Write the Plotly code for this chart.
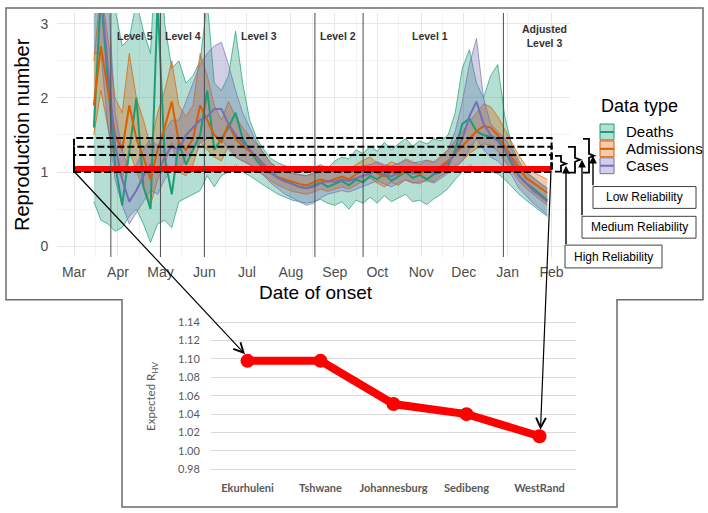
import plotly.graph_objects as go
import pandas as pd

W, H = 708, 513
def px(x): return x / W
def py(y): return 1 - y / H

# ---------------- data (top panel) ----------------
dates = pd.date_range("2020-03-15", periods=65, freq="5D")

cases_med = [3.6,3.4,2.4,1.35,0.9,0.6,0.75,0.95,1.1,1.0,1.2,1.35,1.3,1.5,1.6,1.7,1.75,1.85,1.85,1.65,1.5,1.4,1.3,1.2,1.1,1.0,0.92,0.87,0.84,0.8,0.78,0.8,0.85,0.88,0.87,0.9,0.88,0.92,0.95,0.98,1.02,0.97,0.94,0.99,1.03,0.98,1.0,1.02,0.98,1.05,1.12,1.25,1.45,1.75,1.95,1.65,1.5,1.42,1.3,1.15,0.95,0.85,0.75,0.68,0.6]
cases_lo = [2.6,2.6,1.6,0.9,0.55,0.3,0.45,0.6,0.75,0.7,0.9,1.05,1.0,1.2,1.3,1.4,1.45,1.5,1.45,1.3,1.2,1.15,1.1,1.02,0.95,0.85,0.78,0.7,0.65,0.6,0.55,0.58,0.65,0.7,0.72,0.75,0.73,0.77,0.8,0.84,0.88,0.84,0.8,0.85,0.89,0.85,0.86,0.88,0.85,0.92,0.98,1.05,1.15,1.3,1.45,1.3,1.2,1.15,1.05,0.95,0.78,0.68,0.58,0.5,0.42]
cases_hi = [4.5,4.5,3.4,1.8,1.3,1.0,1.1,1.3,1.45,1.35,1.55,1.7,1.7,1.95,2.2,2.45,2.6,2.7,2.75,2.45,2.1,1.8,1.6,1.4,1.25,1.12,1.05,1.0,0.98,0.96,0.95,0.97,1.0,1.02,1.0,1.03,1.02,1.06,1.08,1.1,1.14,1.1,1.08,1.12,1.16,1.12,1.14,1.16,1.12,1.2,1.3,1.55,1.95,2.45,2.8,2.0,1.65,1.55,1.45,1.3,1.1,1.0,0.92,0.85,0.78]

adm_med = [1.9,2.7,2.1,1.5,1.3,1.9,1.45,1.2,0.9,1.3,1.6,1.95,1.4,1.3,1.45,1.9,1.7,1.5,1.4,1.65,1.45,1.35,1.28,1.2,1.1,1.0,0.93,0.9,0.86,0.84,0.82,0.86,0.9,0.87,0.9,0.94,0.9,0.97,1.02,1.06,0.98,0.94,1.0,0.96,1.04,1.0,0.97,1.03,1.0,1.08,1.15,1.25,1.35,1.45,1.55,1.62,1.6,1.5,1.35,1.2,1.05,0.92,0.85,0.78,0.72]
adm_lo = [1.5,2.1,1.6,1.1,0.9,1.3,1.0,0.8,0.55,0.9,1.1,1.4,1.0,0.95,1.1,1.4,1.3,1.2,1.15,1.35,1.2,1.15,1.1,1.05,0.96,0.88,0.82,0.78,0.74,0.72,0.7,0.73,0.77,0.74,0.77,0.8,0.77,0.83,0.88,0.92,0.85,0.8,0.86,0.82,0.9,0.86,0.84,0.9,0.87,0.95,1.0,1.08,1.15,1.25,1.32,1.38,1.36,1.28,1.15,1.02,0.88,0.78,0.7,0.62,0.55]
adm_hi = [2.5,3.5,2.8,2.0,1.8,2.6,2.0,1.7,1.35,1.8,2.1,2.5,1.9,1.75,1.9,2.6,2.3,1.9,1.7,1.95,1.75,1.6,1.48,1.38,1.25,1.12,1.05,1.02,0.98,0.96,0.95,0.99,1.03,1.0,1.03,1.07,1.04,1.1,1.16,1.2,1.12,1.08,1.14,1.1,1.18,1.14,1.1,1.16,1.14,1.22,1.3,1.42,1.55,1.68,1.8,1.92,1.88,1.75,1.58,1.4,1.22,1.08,1.0,0.95,0.9]

death_med = [1.6,3.4,2.2,1.1,0.55,1.3,2.0,0.8,0.5,3.3,1.2,0.7,1.4,1.1,1.3,1.5,2.1,1.3,1.45,1.6,1.8,1.45,1.3,1.15,1.05,0.98,0.92,0.88,0.84,0.8,0.78,0.82,0.86,0.8,0.84,0.88,0.82,0.9,0.86,0.95,0.9,0.98,0.88,0.94,1.0,0.92,0.96,0.9,0.97,1.0,1.08,1.3,1.65,1.72,1.55,1.5,1.48,1.45,1.3,1.1,0.95,0.85,0.78,0.7,0.62]
death_lo = [0.6,0.35,0.3,0.2,0.25,0.4,0.5,0.3,0.05,0.3,0.35,0.25,0.6,0.65,0.7,0.75,0.95,0.8,0.95,1.0,1.1,1.0,0.95,0.88,0.82,0.76,0.7,0.66,0.62,0.6,0.58,0.6,0.63,0.58,0.55,0.6,0.5,0.62,0.58,0.66,0.58,0.68,0.6,0.65,0.7,0.6,0.62,0.56,0.64,0.7,0.78,0.9,1.0,1.1,1.05,1.0,1.0,0.98,0.9,0.8,0.7,0.62,0.55,0.48,0.4]
death_hi = [4.0,4.5,4.5,3.2,2.7,2.8,3.3,2.9,2.6,4.5,3.0,2.4,2.5,2.2,2.3,2.5,3.3,2.2,2.1,2.3,2.9,2.2,1.7,1.45,1.3,1.18,1.12,1.08,1.05,1.02,1.0,1.06,1.1,1.05,1.15,1.2,1.18,1.3,1.25,1.35,1.28,1.4,1.3,1.38,1.45,1.35,1.42,1.38,1.45,1.42,1.5,1.8,2.4,2.65,2.2,2.0,2.3,2.45,1.75,1.35,1.15,1.0,0.92,0.85,0.78]

ref_dates = ["2020-03-01", "2021-02-01"]
ref_value = [1.04, 1.04]
reliability_levels = [1.23, 1.34, 1.46]
reliability_base = 1.0
level_dates = ["2020-03-27", "2020-05-01", "2020-06-01", "2020-08-18", "2020-09-21", "2020-12-29"]
level_labels = ["Level 5", "Level 4", "Level 3", "Level 2", "Level 1", "Adjusted<br>Level 3"]
level_label_x = [135, 183, 259, 338, 430, 544]

# ---------------- data (bottom panel) ----------------
districts = ["Ekurhuleni", "Tshwane", "Johannesburg", "Sedibeng", "WestRand"]
expected_r = [1.098, 1.098, 1.051, 1.040, 1.016]

GREEN, ORANGE, PURPLE = "#1b9e77", "#d95f02", "#7570b3"
def rgba(h, a):
    h = h.lstrip("#")
    return "rgba(%d,%d,%d,%.2f)" % (int(h[0:2], 16), int(h[2:4], 16), int(h[4:6], 16), a)

fig = go.Figure()
series = [("Deaths", GREEN, death_med, death_lo, death_hi),
          ("Admissions", ORANGE, adm_med, adm_lo, adm_hi),
          ("Cases", PURPLE, cases_med, cases_lo, cases_hi)]
for name, c, m, lo, hi in series:
    fig.add_trace(go.Scatter(x=dates, y=lo, mode="lines", line=dict(color=c, width=0.7),
                             showlegend=False, hoverinfo="skip"))
    fig.add_trace(go.Scatter(x=dates, y=hi, mode="lines", line=dict(color=c, width=0.7),
                             fill="tonexty", fillcolor=rgba(c, 0.33), showlegend=False, hoverinfo="skip"))
for name, c, m, lo, hi in series:
    fig.add_trace(go.Scatter(x=dates, y=m, mode="lines", line=dict(color=c, width=2),
                             name=name, showlegend=False))

fig.add_trace(go.Scatter(x=ref_dates, y=ref_value, mode="lines",
                         line=dict(color="#ff0000", width=6), showlegend=False))

fig.add_trace(go.Scatter(x=districts, y=expected_r, mode="lines+markers", xaxis="x2", yaxis="y2",
                         line=dict(color="#ff0000", width=8), marker=dict(color="#ff0000", size=14),
                         showlegend=False))

shapes = []
for d in level_dates:
    shapes.append(dict(type="line", xref="x", yref="y domain", x0=d, x1=d, y0=0, y1=1,
                       line=dict(color="#4d4d4d", width=1), layer="above"))
for lv in reliability_levels:
    shapes.append(dict(type="rect", xref="x", yref="y", x0=ref_dates[0], x1=ref_dates[1],
                       y0=reliability_base, y1=lv, line=dict(color="black", width=2, dash="7px,3px"),
                       layer="above"))

def P(pts):
    return "M " + " L ".join("%.5f,%.5f" % (px(x), py(y)) for x, y in pts)

frame = [(6, 5), (703, 5), (703, 299), (617, 299), (617, 508), (122, 508), (122, 299), (6, 299), (6, 5)]
shapes.append(dict(type="path", xref="paper", yref="paper", path=P(frame) + " Z",
                   line=dict(color="#6b6b6b", width=1.5)))

def brace(xl, xm, xt, yt, yb, ytip):
    return [(xl, yt), (xm, yt), (xm, ytip - 2), (xt, ytip), (xm, ytip + 2), (xm, yb), (xl, yb)]
for b in [brace(555, 561, 566, 154, 170, 162), brace(568, 575, 580, 145, 171, 158),
          brace(583, 589, 594, 137, 171, 154)]:
    shapes.append(dict(type="path", xref="paper", yref="paper", path=P(b),
                       line=dict(color="black", width=1.8)))

boxes = [("Low Reliability", 593, 696, 185, 207),
         ("Medium Reliability", 582, 696, 215, 237),
         ("High Reliability", 565, 662, 244, 267)]
for t, x0, x1, y0, y1 in boxes:
    shapes.append(dict(type="rect", xref="paper", yref="paper", x0=px(x0), x1=px(x1),
                       y0=py(y1), y1=py(y0), line=dict(color="#404040", width=1), fillcolor="white"))

leg = [("Deaths", GREEN, 122, 138), ("Admissions", ORANGE, 139, 155), ("Cases", PURPLE, 156, 172)]
for t, c, y0, y1 in leg:
    shapes.append(dict(type="rect", xref="paper", yref="paper", x0=px(600), x1=px(614),
                       y0=py(y1), y1=py(y0), line=dict(color=c, width=1), fillcolor=rgba(c, 0.33)))
    shapes.append(dict(type="line", xref="paper", yref="paper", x0=px(600), x1=px(614),
                       y0=py((y0 + y1) / 2), y1=py((y0 + y1) / 2), line=dict(color=c, width=2)))

ann = []
F = "Liberation Sans, Arial, sans-serif"
for lab, x in zip(level_labels, level_label_x):
    ann.append(dict(x=px(x), y=py(33), xref="paper", yref="paper", text="<b>%s</b>" % lab,
                    showarrow=False, xanchor="center", yanchor="middle",
                    font=dict(family=F, size=10.5, color="#333333")))
ann.append(dict(x=px(22), y=py(133), xref="paper", yref="paper", text="Reproduction number",
                textangle=-90, showarrow=False, xanchor="center", yanchor="middle",
                font=dict(family=F, size=20, color="black")))
ann.append(dict(x=px(316), y=py(292), xref="paper", yref="paper", text="Date of onset",
                showarrow=False, xanchor="center", yanchor="middle",
                font=dict(family=F, size=19, color="black")))
ann.append(dict(x=px(599), y=py(104), xref="paper", yref="paper", text="Data type",
                showarrow=False, xanchor="left", yanchor="middle",
                font=dict(family=F, size=18, color="black")))
for t, c, y0, y1 in leg:
    ann.append(dict(x=px(624), y=py((y0 + y1) / 2), xref="paper", yref="paper", text=t,
                    showarrow=False, xanchor="left", yanchor="middle",
                    font=dict(family=F, size=15, color="black")))
for t, x0, x1, y0, y1 in boxes:
    ann.append(dict(x=px((x0 + x1) / 2), y=py((y0 + y1) / 2), xref="paper", yref="paper", text=t,
                    showarrow=False, xanchor="center", yanchor="middle",
                    font=dict(family=F, size=12, color="black")))
for hx, hy, ty in [(566, 164, 244), (582, 158, 215), (593, 154, 185)]:
    ann.append(dict(x=px(hx), y=py(hy), xref="paper", yref="paper", text="", showarrow=True,
                    ax=0, ay=ty - hy, arrowhead=2, arrowsize=1.1, arrowwidth=1.4, arrowcolor="black"))
ann.append(dict(x=px(245), y=py(354), xref="paper", yref="paper", text="", showarrow=True,
                ax=73 - 245, ay=170 - 354, arrowhead=5, arrowsize=1.6, arrowwidth=1.2, arrowcolor="black"))
ann.append(dict(x=px(540.5), y=py(430), xref="paper", yref="paper", text="", showarrow=True,
                ax=551 - 540.5, ay=170 - 430, arrowhead=5, arrowsize=1.6, arrowwidth=1.2, arrowcolor="black"))
ann.append(dict(x=px(152), y=py(397), xref="paper", yref="paper", text="Expected R<sub>HV</sub>",
                textangle=-90, showarrow=False, xanchor="center", yanchor="middle",
                font=dict(family="Lato, sans-serif", size=11.5, color="#595959")))

fig.update_layout(
    width=W, height=H, autosize=False, margin=dict(l=0, r=0, t=0, b=0, pad=0),
    paper_bgcolor="white", plot_bgcolor="white", showlegend=False,
    shapes=shapes, annotations=ann,
    xaxis=dict(domain=[px(57), px(570)], range=["2020-02-18", "2021-02-14"], type="date",
               dtick="M1", tick0="2020-03-01", tickformat="%b", showgrid=True, gridcolor="#e6e6e6",
               gridwidth=1, zeroline=False, showline=False, ticks="outside", ticklen=2,
               tickcolor="rgba(0,0,0,0)", tickfont=dict(family=F, size=14, color="#4d4d4d"),
               minor=dict(dtick="M1", tick0="2020-03-16", showgrid=True, gridcolor="#f2f2f2",
                          gridwidth=0.6), anchor="y"),
    yaxis=dict(domain=[py(256), py(10)], range=[-0.147, 3.147], dtick=1, tick0=0,
               showgrid=True, gridcolor="#e6e6e6", zeroline=False, showline=False,
               ticks="outside", ticklen=5, tickcolor="rgba(0,0,0,0)",
               tickfont=dict(family=F, size=14, color="#4d4d4d"),
               minor=dict(dtick=0.5, tick0=0, showgrid=True, gridcolor="#f2f2f2", gridwidth=0.6),
               anchor="x"),
    xaxis2=dict(domain=[px(211), px(576)], type="category", range=[-0.5, 4.5], anchor="y2",
                showgrid=False, zeroline=False, showline=False, ticks="outside", ticklen=4,
                tickcolor="rgba(0,0,0,0)",
                tickfont=dict(family="Lato, sans-serif", size=11, color="#595959", weight="bold")),
    yaxis2=dict(domain=[py(474.6), py(317.1)], range=[0.975, 1.145], dtick=0.02, tick0=0.98,
                tickformat=".2f", showgrid=True, gridcolor="#d9d9d9", zeroline=False, showline=False,
                ticks="outside", ticklen=8, tickcolor="rgba(0,0,0,0)", anchor="x2",
                tickfont=dict(family="Lato, sans-serif", size=11, color="#595959")),
)

fig.write_html("out.html")
